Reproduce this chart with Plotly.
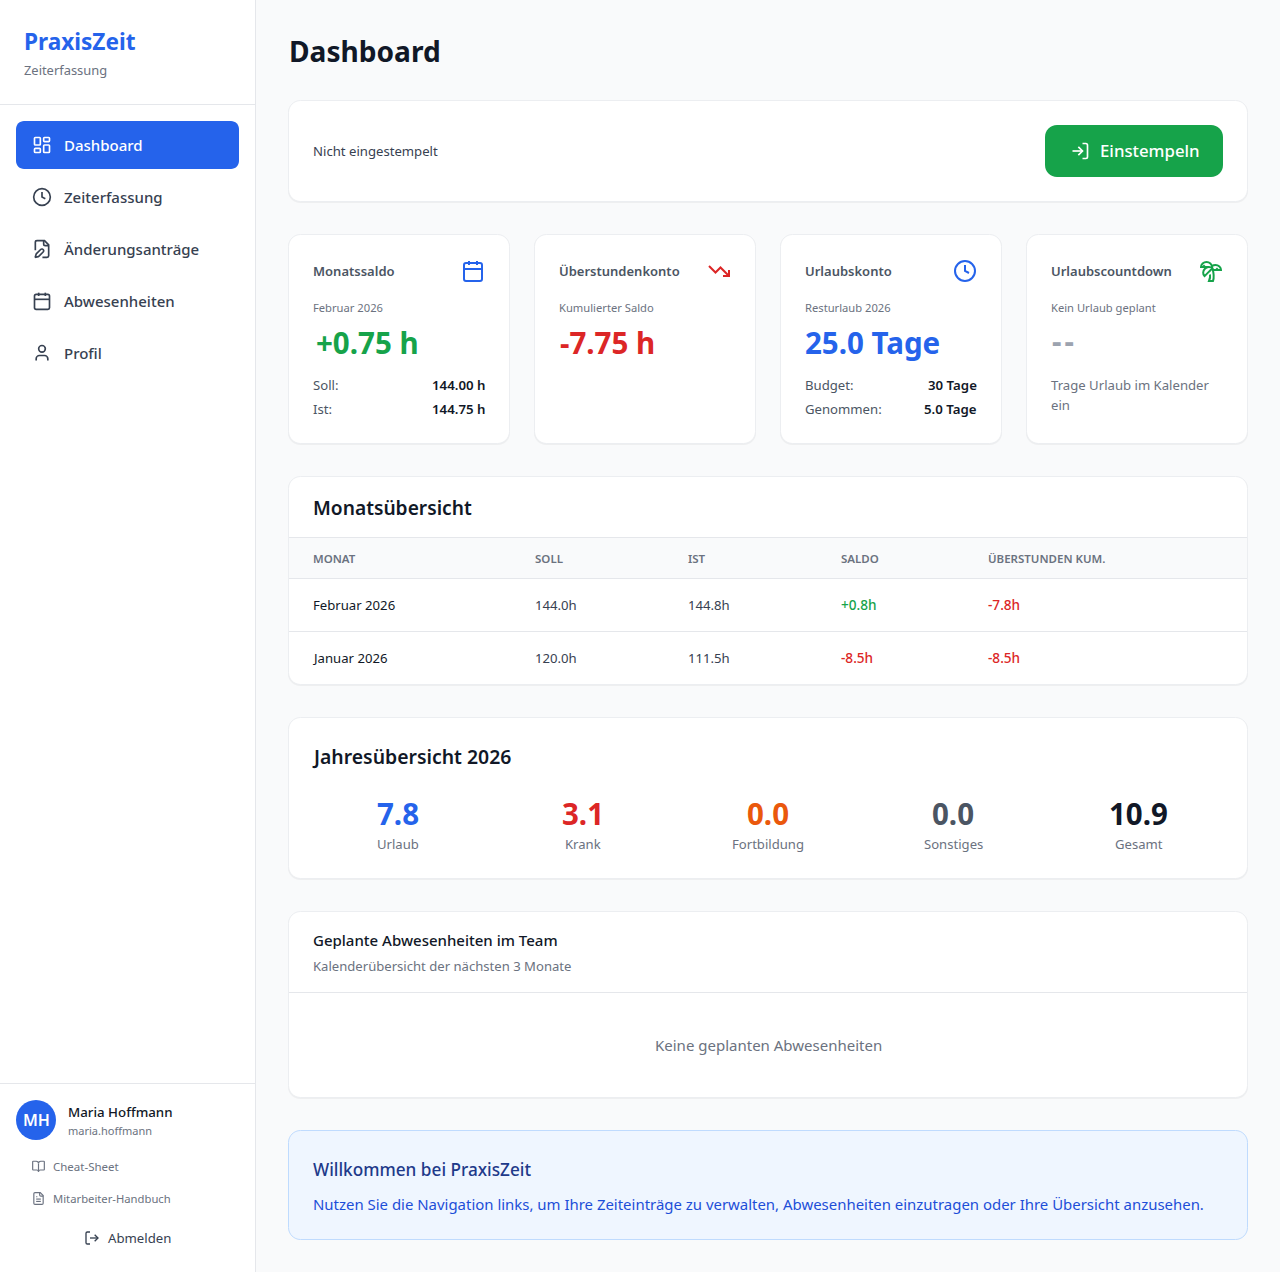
import math
import re
import plotly.graph_objects as go

FONT = "Noto Sans"
BLUE, GREEN, RED, ORANGE = "#2563eb", "#16a34a", "#dc2626", "#ea580c"
INK, TEXT, MUTED, LINE = "#111827", "#374151", "#6b7280", "#e5e7eb"

nav_labels = ["Dashboard", "Zeiterfassung", "Änderungsanträge", "Abwesenheiten", "Profil"]

card_titles = ["Monatssaldo", "Überstundenkonto", "Urlaubskonto", "Urlaubscountdown"]
card_subtitles = ["Februar 2026", "Kumulierter Saldo", "Resturlaub 2026", "Kein Urlaub geplant"]
card_values = ["+0.75 h", "-7.75 h", "25.0 Tage", "-\u200a-"]
soll_ist_labels = ["Soll:", "Ist:"]
soll_ist_values = ["144.00 h", "144.75 h"]
budget_labels = ["Budget:", "Genommen:"]
budget_values = ["30 Tage", "5.0 Tage"]

table_headers = ["MONAT", "SOLL", "IST", "SALDO", "ÜBERSTUNDEN KUM."]
table_months = ["Februar 2026", "Januar 2026"]
table_soll = [144.0, 120.0]
table_ist = [144.8, 111.5]
table_saldo = [0.8, -8.5]
table_kum = [-7.8, -8.5]

year_labels = ["Urlaub", "Krank", "Fortbildung", "Sonstiges", "Gesamt"]
year_values = [7.8, 3.1, 0.0, 0.0, 10.9]

# lucide icons, 24 unit grid
ICONS = {
    "dashboard": ["M4 3h5a1 1 0 0 1 1 1v7a1 1 0 0 1-1 1H4a1 1 0 0 1-1-1V4a1 1 0 0 1 1-1z",
                  "M15 3h5a1 1 0 0 1 1 1v3a1 1 0 0 1-1 1h-5a1 1 0 0 1-1-1V4a1 1 0 0 1 1-1z",
                  "M15 12h5a1 1 0 0 1 1 1v7a1 1 0 0 1-1 1h-5a1 1 0 0 1-1-1v-7a1 1 0 0 1 1-1z",
                  "M4 16h5a1 1 0 0 1 1 1v3a1 1 0 0 1-1 1H4a1 1 0 0 1-1-1v-3a1 1 0 0 1 1-1z"],
    "clock": ["M22 12a10 10 0 1 1-20 0a10 10 0 1 1 20 0z", "M12 6v6l4 2"],
    "file_pen": ["M12.5 22H18a2 2 0 0 0 2-2V7l-5-5H6a2 2 0 0 0-2 2v9.5",
                 "M14 2v4a2 2 0 0 0 2 2h4",
                 "M13.378 15.626a1 1 0 1 0-3.004-3.004l-5.01 5.012a2 2 0 0 0-.506.854l-.837 2.87a.5.5 0 0 0 .62.62l2.87-.837a2 2 0 0 0 .854-.506z"],
    "calendar": ["M8 2v4", "M16 2v4", "M3 10h18",
                 "M5 4h14a2 2 0 0 1 2 2v14a2 2 0 0 1-2 2H5a2 2 0 0 1-2-2V6a2 2 0 0 1 2-2z"],
    "user": ["M19 21v-2a4 4 0 0 0-4-4H9a4 4 0 0 0-4 4v2", "M16 7a4 4 0 1 1-8 0a4 4 0 1 1 8 0z"],
    "trending": ["M22 17L13.5 8.5L8.5 13.5L2 7", "M16 17H22V11"],
    "palm": ["M13 8c0-2.76-2.46-5-5.5-5S2 5.24 2 8h2l1-1 1 1h4",
             "M13 7.14A5.82 5.82 0 0 1 16.5 6c3.04 0 5.5 2.24 5.5 5h-3l-1-1-1 1h-3",
             "M5.89 9.71c-2.15 2.15-2.3 5.47-.35 7.43l4.24-4.25.7-.7.71-.71 2.12-2.12c-1.95-1.96-5.27-1.8-7.42.35",
             "M11 15.5c.5 2.5-.17 4.5-1 6.5h4c2-5.5-.5-12-1-14"],
    "book": ["M12 7v14",
             "M3 18a1 1 0 0 1-1-1V4a1 1 0 0 1 1-1h5a4 4 0 0 1 4 4 4 4 0 0 1 4-4h5a1 1 0 0 1 1 1v13a1 1 0 0 1-1 1h-6a3 3 0 0 0-3 3 3 3 0 0 0-3-3z"],
    "file_text": ["M15 2H6a2 2 0 0 0-2 2v16a2 2 0 0 0 2 2h12a2 2 0 0 0 2-2V7Z",
                   "M14 2v4a2 2 0 0 0 2 2h4", "M10 9H8", "M16 13H8", "M16 17H8"],
    "log_out": ["M9 21H5a2 2 0 0 1-2-2V5a2 2 0 0 1 2-2h4", "M16 17l5-5-5-5", "M21 12H9"],
    "log_in": ["M15 3h4a2 2 0 0 1 2 2v14a2 2 0 0 1-2 2h-4", "M10 17l5-5-5-5", "M15 12H3"],
}


def arc_to_curves(x0, y0, r, large, sweep, x1, y1):
    # circular arcs only, the lucide ones above all have rx == ry
    d = math.hypot(x1 - x0, y1 - y0)
    r = max(r, d / 2)
    h = math.sqrt(max(r * r - d * d / 4, 0))
    sign = 1 if large != sweep else -1
    cx = (x0 + x1) / 2 + sign * h * (y0 - y1) / d
    cy = (y0 + y1) / 2 - sign * h * (x0 - x1) / d
    a0 = math.atan2(y0 - cy, x0 - cx)
    a1 = math.atan2(y1 - cy, x1 - cx)
    if sweep and a1 < a0:
        a1 += 2 * math.pi
    if not sweep and a1 > a0:
        a1 -= 2 * math.pi
    n = max(1, math.ceil(abs(a1 - a0) / (math.pi / 2)))
    step = (a1 - a0) / n
    k = 4 / 3 * math.tan(step / 4)
    out = []
    for i in range(n):
        a = a0 + i * step
        b = a + step
        out.append(("C", [cx + r * (math.cos(a) - k * math.sin(a)), cy + r * (math.sin(a) + k * math.cos(a)),
                          cx + r * (math.cos(b) + k * math.sin(b)), cy + r * (math.sin(b) - k * math.cos(b)),
                          cx + r * math.cos(b), cy + r * math.sin(b)]))
    return out


def absolute_segments(path):
    segs = []
    x = y = 0.0
    sx = sy = 0.0
    prev_ctrl = None
    for cmd, body in re.findall(r"([MmLlHhVvCcSsAaZz])([^MmLlHhVvCcSsAaZz]*)", path):
        nums = [float(n) for n in re.findall(r"-?\d*\.?\d+", body)]
        rel = cmd.islower()
        c = cmd.upper()
        if c == "Z":
            segs.append(("Z", []))
            x, y = sx, sy
            continue
        size = {"M": 2, "L": 2, "H": 1, "V": 1, "C": 6, "S": 4, "A": 7}[c]
        for i in range(0, len(nums), size):
            p = nums[i:i + size]
            ox, oy = (x, y) if rel else (0, 0)
            if c == "M" or c == "L":
                x, y = p[0] + ox, p[1] + oy
                if c == "M" and i == 0:
                    sx, sy = x, y
                    segs.append(("M", [x, y]))
                else:
                    segs.append(("L", [x, y]))
            elif c == "H":
                x = p[0] + ox
                segs.append(("L", [x, y]))
            elif c == "V":
                y = p[0] + oy
                segs.append(("L", [x, y]))
            elif c == "C":
                pts = [p[0] + ox, p[1] + oy, p[2] + ox, p[3] + oy, p[4] + ox, p[5] + oy]
                segs.append(("C", pts))
                prev_ctrl = (pts[2], pts[3])
                x, y = pts[4], pts[5]
            elif c == "S":
                c1 = (2 * x - prev_ctrl[0], 2 * y - prev_ctrl[1]) if prev_ctrl else (x, y)
                pts = [c1[0], c1[1], p[0] + ox, p[1] + oy, p[2] + ox, p[3] + oy]
                segs.append(("C", pts))
                prev_ctrl = (pts[2], pts[3])
                x, y = pts[4], pts[5]
            elif c == "A":
                x1, y1 = p[5] + ox, p[6] + oy
                segs.extend(arc_to_curves(x, y, p[0], int(p[3]), int(p[4]), x1, y1))
                x, y = x1, y1
    return segs


shapes = []
notes = []


def rrect(x0, y0, x1, y1, r, fill, line=None, width=1):
    k = 0.45 * r
    path = (f"M{x0 + r} {y0}L{x1 - r} {y0}C{x1 - k} {y0} {x1} {y0 + k} {x1} {y0 + r}"
            f"L{x1} {y1 - r}C{x1} {y1 - k} {x1 - k} {y1} {x1 - r} {y1}"
            f"L{x0 + r} {y1}C{x0 + k} {y1} {x0} {y1 - k} {x0} {y1 - r}"
            f"L{x0} {y0 + r}C{x0} {y0 + k} {x0 + k} {y0} {x0 + r} {y0}Z")
    shapes.append(dict(type="path", path=path, fillcolor=fill,
                       line=dict(color=line or "rgba(0,0,0,0)", width=width if line else 0)))


def hline(x0, x1, y, color=LINE):
    shapes.append(dict(type="line", x0=x0, x1=x1, y0=y, y1=y, line=dict(color=color, width=1)))


def card(x0, y0, x1, y1, fill="#ffffff", line="#eceef1", r=12):
    # soft shadow, then the card itself on half pixels so the border stays crisp
    rrect(x0 - 1, y0, x1 + 1, y1 + 2, r, "rgba(0,0,0,0.045)")
    rrect(x0 - 0.5, y0 - 0.5, x1 + 0.5, y1 + 0.5, r, fill, line)


def icon(name, cx, cy, px, color):
    scale = px / 24
    for part in ICONS[name]:
        out = ""
        for c, pts in absolute_segments(part):
            xy = [cx + (v - 12) * scale if i % 2 == 0 else cy + (v - 12) * scale for i, v in enumerate(pts)]
            out += c + " ".join(f"{v:.2f}" for v in xy)
        shapes.append(dict(type="path", path=out, fillcolor="rgba(0,0,0,0)",
                           line=dict(color=color, width=2 * scale)))


def text(x, y, s, size, color, weight=400, anchor="left"):
    notes.append(dict(x=x, y=y - 0.4, text=s, showarrow=False, xanchor=anchor, yanchor="middle",
                      borderpad=0, borderwidth=0,
                      font=dict(family=FONT, size=size, color=color, weight=weight)))


# sidebar
shapes.append(dict(type="rect", x0=0, x1=255.5, y0=0, y1=1272, fillcolor="#ffffff", line=dict(width=0)))
shapes.append(dict(type="line", x0=255.5, x1=255.5, y0=0, y1=1272, line=dict(color=LINE, width=1)))
hline(0, 255, 104.5)
hline(0, 255, 1083.5)
text(24, 41.5, "PraxisZeit", 22.6, BLUE, 700)
text(24, 70.5, "Zeiterfassung", 12.9, MUTED)

rrect(16, 121, 239, 169, 8, BLUE)
nav_icons = ["dashboard", "clock", "file_pen", "calendar", "user"]
for i, label in enumerate(nav_labels):
    y = 145 + 52 * i
    color = "#ffffff" if i == 0 else TEXT
    icon(nav_icons[i], 42, y, 20, color)
    text(64, y, label, 15, color, 500)

shapes.append(dict(type="circle", x0=16, x1=56, y0=1100, y1=1140, fillcolor=BLUE, line=dict(width=0)))
text(36, 1120, "MH", 16, "#ffffff", 600, "center")
text(68, 1112, "Maria Hoffmann", 13.3, INK, 500)
text(68, 1131, "maria.hoffmann", 11, MUTED)
icon("book", 38.5, 1166.5, 14, MUTED)
text(53, 1167, "Cheat-Sheet", 11.5, MUTED)
icon("file_text", 38.5, 1198.5, 14, MUTED)
text(53, 1199, "Mitarbeiter-Handbuch", 11.25, MUTED)
icon("log_out", 92, 1238, 16, TEXT)
text(108, 1238, "Abmelden", 13.2, TEXT)

# main column
text(288.5, 51.5, "Dashboard", 28.1, INK, 700)

card(289, 101, 1247, 201)
text(313, 151, "Nicht eingestempelt", 13.15, TEXT)
rrect(1045, 125, 1223, 177, 12, GREEN)
icon("log_in", 1080, 151, 20, "#ffffff")
text(1100, 151, "Einstempeln", 16.8, "#ffffff", 500)

card_x = [289, 535, 781, 1027]
card_icons = [("calendar", BLUE), ("trending", RED), ("clock", BLUE), ("palm", GREEN)]
value_colors = [GREEN, RED, BLUE, "#9ca3af"]
value_shift = [26.5, 25, 24, 25]
value_y = [343, 343, 343, 341]
for i, x in enumerate(card_x):
    card(x, 235, x + 220, 443)
    text(x + 24, 271, card_titles[i], 13, "#4b5563", 600)
    icon(card_icons[i][0], x + 184, 271, 24, card_icons[i][1])
    text(x + 24, 308, card_subtitles[i], 11.2, MUTED)
    text(x + value_shift[i], value_y[i], card_values[i], 29.5, value_colors[i], 700)

for i in range(2):
    y = 385 + 24 * i
    text(313, y, soll_ist_labels[i], 13.15, "#4b5563")
    text(485, y, soll_ist_values[i], 13.25, INK, 600, "right")
    text(805, y, budget_labels[i], 13.15, "#4b5563")
    text(977, y, budget_values[i], 13.25, INK, 600, "right")
text(1051, 385, "Trage Urlaub im Kalender", 13.15, MUTED)
text(1051, 405, "ein", 13.15, MUTED)

# month table
card(289, 477, 1247, 684)
text(313, 508, "Monatsübersicht", 19.2, INK, 600)
shapes.append(dict(type="rect", x0=289, x1=1247, y0=538, y1=578, fillcolor="#f9fafb", line=dict(width=0)))
hline(289, 1247, 537.5)
hline(289, 1247, 578.5)
hline(289, 1247, 631.5)
col_x = [313, 534.5, 687.5, 840.5, 988]
row_x0 = [313, 312]
for x, h in zip(col_x, table_headers):
    text(x, 559, h, 11.5, MUTED, 600)
for r, y in enumerate([605, 658]):
    sal = table_saldo[r]
    text(row_x0[r], y, table_months[r], 13.15, INK)
    text(col_x[1], y, f"{table_soll[r]:.1f}h", 13.15, TEXT)
    text(col_x[2], y, f"{table_ist[r]:.1f}h", 13.15, TEXT)
    text(col_x[3], y, f"{sal:+.1f}h", 13.6, GREEN if sal >= 0 else RED, 500)
    text(col_x[4], y, f"{table_kum[r]:+.1f}h", 13.6, GREEN if table_kum[r] >= 0 else RED, 500)

# year summary
card(289, 718, 1247, 878)
text(311.5, 757, "Jahresübersicht 2026", 19.4, INK, 600)
year_x = [398, 583, 768, 953, 1138.5]
year_colors = [BLUE, RED, ORANGE, "#4b5563", INK]
for i, x in enumerate(year_x):
    text(x, 813.5, f"{year_values[i]:.1f}", 29.5, year_colors[i], 700, "center")
    text(x, 844, year_labels[i], 13.1, MUTED, 400, "center")

# team absences
card(289, 912, 1247, 1097)
text(313, 940, "Geplante Abwesenheiten im Team", 15, INK, 500)
text(313, 966, "Kalenderübersicht der nächsten 3 Monate", 13.1, MUTED)
hline(289, 1247, 992.5)
text(768, 1045, "Keine geplanten Abwesenheiten", 15, MUTED, 400, "center")

# welcome box
rrect(288.5, 1130.5, 1247.5, 1239.5, 12, "#eff6ff", "#bfdbfe")
text(313, 1170, "Willkommen bei PraxisZeit", 17.2, "#1e3a8a", 500)
text(313, 1204, "Nutzen Sie die Navigation links, um Ihre Zeiteinträge zu verwalten, "
                "Abwesenheiten einzutragen oder Ihre Übersicht anzusehen.", 14.95, "#1d4ed8")

fig = go.Figure()
fig.update_layout(
    width=1280, height=1272,
    margin=dict(l=0, r=0, t=0, b=0),
    paper_bgcolor="#f9fafb", plot_bgcolor="#f9fafb",
    showlegend=False,
    shapes=[dict(s, xref="x", yref="y", layer="below") for s in shapes],
    annotations=[dict(a, xref="x", yref="y") for a in notes],
)
fig.update_xaxes(visible=False, range=[0, 1280], fixedrange=True)
fig.update_yaxes(visible=False, range=[1272, 0], fixedrange=True)

fig.write_html("out.html", config={"displayModeBar": False},
               post_script="document.body.style.margin='0';document.body.style.overflow='hidden';")
